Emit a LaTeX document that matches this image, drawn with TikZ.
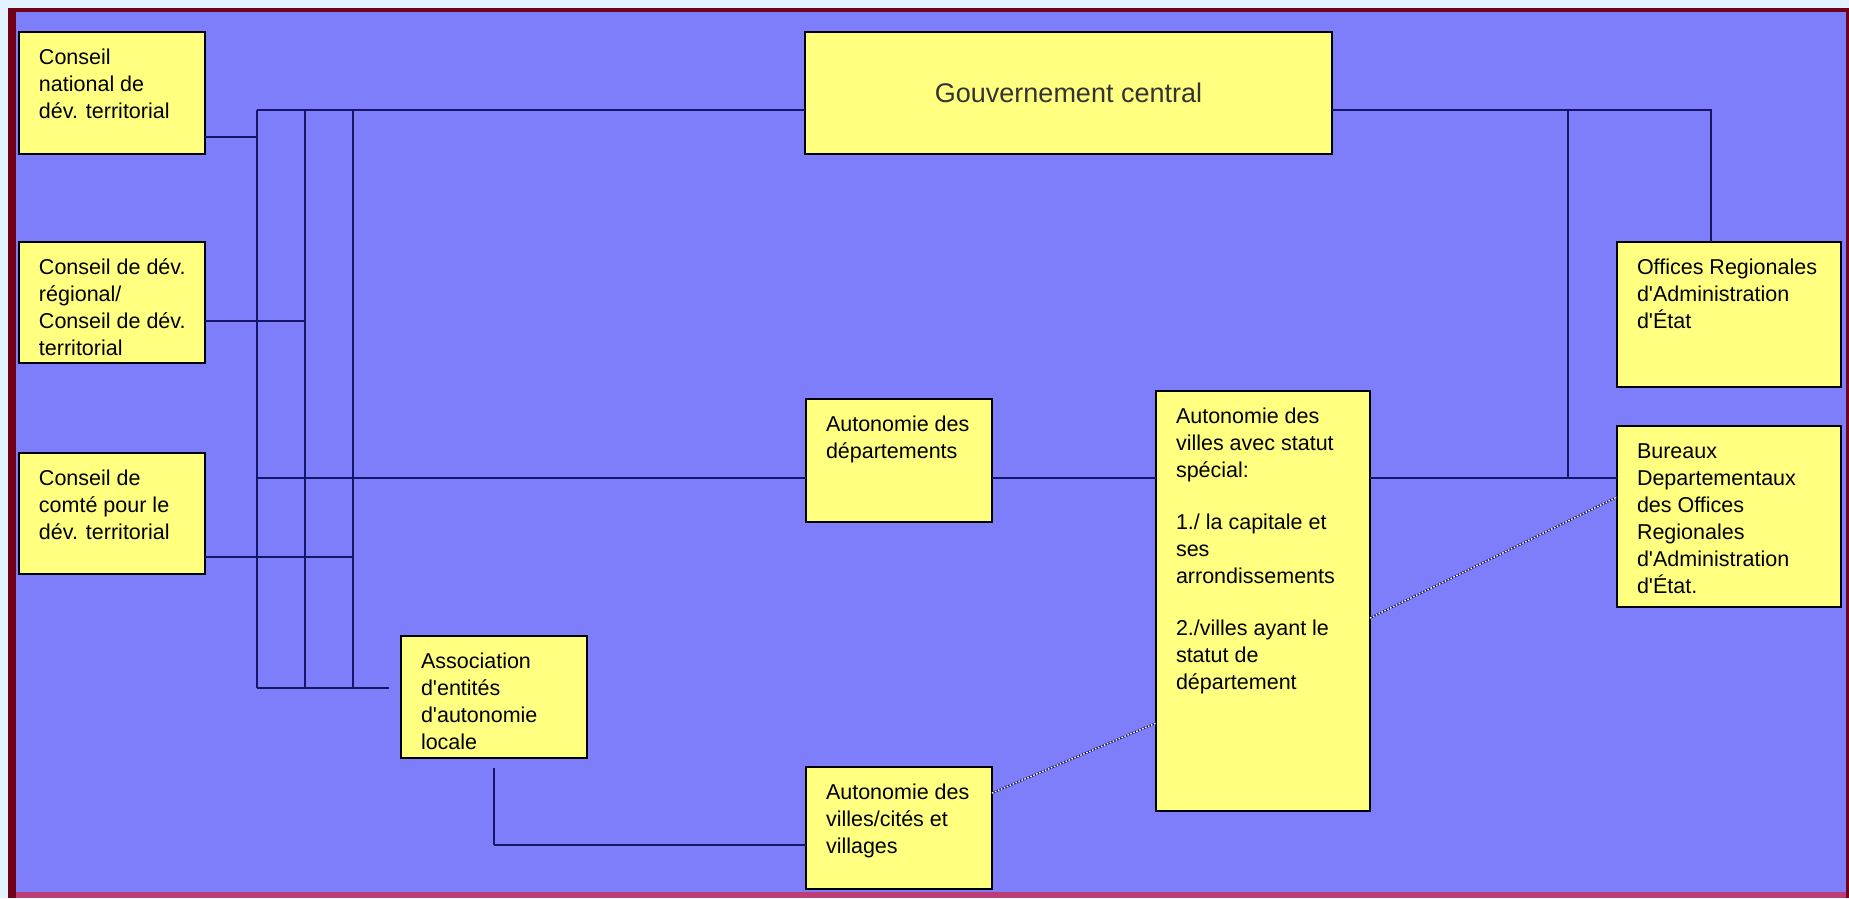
\documentclass[tikz,border=0pt]{standalone}
\usepackage{fontspec}
\setmainfont{Liberation Sans}[Ligatures=TeXOff]
\usetikzlibrary{calc}
\definecolor{bgblue}{RGB}{126,126,250}
\definecolor{boxyellow}{RGB}{255,255,128}
\definecolor{linenavy}{RGB}{22,22,105}
\definecolor{framered}{RGB}{112,0,24}
\definecolor{framepink}{RGB}{190,60,120}
\definecolor{paleblue}{RGB}{226,242,255}
\newcommand{\bfnt}{\fontsize{21.5}{27}\selectfont}
\newcommand{\bxt}[3]{\parbox[c][#2][t]{#1}{\bfnt\raggedright\leftskip=20pt\relax\vspace*{5pt}\prevdepth=0pt\relax #3\par}}
\begin{document}
\begin{tikzpicture}[x=1pt,y=-1pt,
  box/.style={draw=black, line width=2pt, fill=boxyellow, inner sep=0pt, outer sep=0pt, anchor=north west},
  conn/.style={draw=linenavy, line width=2pt},
  dotl/.style={draw=linenavy, line width=2pt, postaction={draw=white, line width=1.4pt, dash pattern=on 1.6pt off 1.6pt}}]
\useasboundingbox (0,0) rectangle (1849,898);
\fill[paleblue] (0,0) rectangle (1849,898);
\fill[framered] (8,8) rectangle (1849,898);
\fill[framepink] (16,892) rectangle (1846,898);
\fill[bgblue] (16,12) rectangle (1846,892);

% boxes
\node[box] (cnat) at (19,32) {\bxt{186pt}{122pt}{Conseil\\national de\\dév. territorial}};
\node[box] (creg) at (19,242) {\bxt{186pt}{121pt}{Conseil de dév.\\régional/\\Conseil de dév.\\territorial}};
\node[box] (ccom) at (19,453) {\bxt{186pt}{121pt}{Conseil de\\comté pour le\\dév. territorial}};
\node[box, minimum width=527pt, minimum height=122pt, font=\fontsize{27}{32}\selectfont, text=black!80] (gouv) at (805,32) {Gouvernement central};
\node[box] (dept) at (806,399) {\bxt{186pt}{123pt}{Autonomie des\\départements}};
\node[box] (spec) at (1156,391) {\bxt{214pt}{420pt}{Autonomie des\\villes avec statut\\spécial:\\[25pt]1./ la capitale et\\ses\\arrondissements\\[25pt]2./villes ayant le\\statut de\\département}};
\node[box] (offi) at (1617,242) {\bxt{224pt}{145pt}{Offices Regionales\\d'Administration\\d'État}};
\node[box] (bur) at (1617,426) {\bxt{224pt}{181pt}{Bureaux\\Departementaux\\des Offices\\Regionales\\d'Administration\\d'État.}};
\node[box] (assoc) at (401,636) {\bxt{186pt}{122pt}{Association\\d'entités\\d'autonomie\\locale}};
\node[box] (villes) at (806,767) {\bxt{186pt}{122pt}{Autonomie des\\villes/cités et\\villages}};

% bus coordinates
\coordinate (b1t) at (257,110); \coordinate (b1b) at (257,688);
\coordinate (b2t) at (305,110); \coordinate (b2b) at (305,688);
\coordinate (b3t) at (353,110); \coordinate (b3b) at (353,688);
\coordinate (mid) at (257,478);
\coordinate (r1) at (1711,110);
\coordinate (r2) at (1568,110);
\coordinate (r2b) at (1568,478);

% left bus
\draw[conn] (b1t) -- (b1b);
\draw[conn] (b2t) -- (b2b);
\draw[conn] (b3t) -- (b3b);
\draw[conn] (b1t) -- (gouv.west |- b1t);
\draw[conn] ($(cnat.south east)+(0,-17)$) coordinate (p1) -- (p1 -| b1t);
\draw[conn] ($(creg.south east)+(0,-42)$) coordinate (p2) -- (p2 -| b2t);
\draw[conn] ($(ccom.south east)+(0,-17)$) coordinate (p3) -- (p3 -| b3t);
\draw[conn] (mid) -- (dept.west |- mid);
\draw[conn, shorten >=12pt] (b1b) -- (assoc.west |- b1b);
\draw[conn, shorten <=10pt] (assoc.south) -- ($(assoc.south)+(0,87)$);
\draw[conn] ($(assoc.south)+(0,87)$) coordinate (q) -- (q -| villes.west);

% middle / right
\draw[conn] (dept.east |- mid) -- (spec.west |- mid);
\draw[conn] (spec.east |- r2b) -- (bur.west |- r2b);
\draw[conn] (gouv.east |- r1) -- (r1) -- (r1 |- offi.north);
\draw[conn] (r2) -- (r2b);

% dotted links
\draw[dotl] ($(villes.north east)+(0,26)$) -- ($(spec.north west)+(0,332)$);
\draw[dotl] ($(spec.north east)+(0,227)$) -- ($(bur.north west)+(0,71)$);
\end{tikzpicture}
\end{document}
